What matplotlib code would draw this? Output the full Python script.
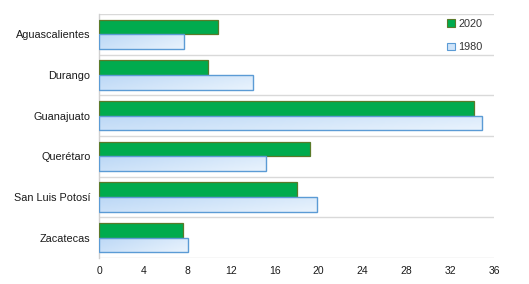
import numpy as np
import matplotlib
matplotlib.use("Agg")
import matplotlib.pyplot as plt
from matplotlib.colors import LinearSegmentedColormap
from matplotlib.patches import Patch

plt.rcParams['font.family'] = ['Liberation Sans', 'DejaVu Sans']

# data
states = ['Aguascalientes', 'Durango', 'Guanajuato', 'Querétaro',
          'San Luis Potosí', 'Zacatecas']
values_2020 = [10.8, 9.9, 34.2, 19.2, 18.0, 7.6]
values_1980 = [7.7, 14.0, 34.9, 15.2, 19.8, 8.1]
xticks = [0, 4, 8, 12, 16, 20, 24, 28, 32, 36]

green = '#00ab4e'
green_edge = '#5a7a2a'
blue_edge = '#5b9bd5'
blue_grad = LinearSegmentedColormap.from_list('bg', ['#bcd8f6', '#e9f3fd'])

fig = plt.figure(figsize=(5.29, 2.84), dpi=100)
ax = fig.add_axes([0.188, 0.0915, 0.746, 0.8595])

y = np.arange(len(states))
h = 0.36

ax.barh(y - 0.18, values_2020, height=h, color=green, edgecolor=green_edge,
        linewidth=0.9, zorder=3)
blue_bars = ax.barh(y + 0.18, values_1980, height=h, color='none',
                    edgecolor=blue_edge, linewidth=1.0, zorder=4)

# gradient fill for the 1980 bars
grad = np.add.outer(np.linspace(0, 0.5, 20), np.linspace(0, 1, 100))
for bar in blue_bars:
    x0, y0 = bar.get_x(), bar.get_y()
    w, hh = bar.get_width(), bar.get_height()
    im = ax.imshow(grad, cmap=blue_grad, aspect='auto', interpolation='bilinear',
                   extent=[x0, x0 + w, y0 + hh, y0], zorder=3.5)
    im.set_clip_path(bar)

ax.set_xlim(0, 36)
ax.set_ylim(len(states) - 0.5, -0.5)
ax.set_aspect('auto')

# band separators
for b in np.arange(-0.5, len(states), 1.0):
    ax.axhline(b, color='#d9d9d9', linewidth=1.0, zorder=1)

ax.set_yticks(y)
ax.set_yticklabels(states, fontsize=7.8, color='#1a1a1a')
ax.set_xticks(xticks)
ax.set_xticklabels([str(t) for t in xticks], fontsize=7.5, color='#1a1a1a')
ax.tick_params(axis='both', length=0)
ax.tick_params(axis='y', pad=6.5)
ax.tick_params(axis='x', pad=6)

for s in ['top', 'right', 'bottom']:
    ax.spines[s].set_visible(False)
ax.spines['left'].set_color('#d0d0d0')
ax.spines['left'].set_linewidth(1.0)

handles = [Patch(facecolor=green, edgecolor=green_edge, linewidth=0.8, label='2020'),
           Patch(facecolor='#cfe4f9', edgecolor=blue_edge, linewidth=0.8, label='1980')]
leg = ax.legend(handles=handles, loc='upper right', bbox_to_anchor=(0.995, 1.02),
                frameon=False, fontsize=7.8, handlelength=0.7, handleheight=0.7,
                handletextpad=0.3, labelspacing=1.25)
for t in leg.get_texts():
    t.set_color('#333333')

fig.savefig('out.png', dpi=100)
